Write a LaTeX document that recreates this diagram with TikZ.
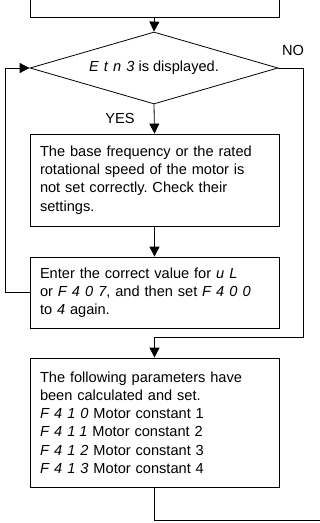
\documentclass[tikz,border=0pt]{standalone}
\usepackage{fontspec}
\setmainfont{Liberation Sans}
\usetikzlibrary{arrows.meta,shapes.geometric}
\frenchspacing
\newcommand{\dsp}[1]{{\itshape\addfontfeature{LetterSpace=35}#1}}
\tikzset{
  box/.style={draw, line width=0.8pt, rectangle, minimum width=249pt, text width=229pt, inner xsep=10pt, inner ysep=0pt, align=left, font=\fontsize{14.6}{18.2}\selectfont},
  dec/.style={draw, line width=0.8pt, diamond, shape aspect=3.44, minimum width=248pt, minimum height=72pt, inner sep=0pt, font=\fontsize{14.6}{18}\selectfont},
  conn/.style={line width=0.8pt},
  arr/.style={conn, -{Triangle[length=10pt,width=10pt]}},
  lbl/.style={font=\fontsize{14.6}{16}\selectfont, inner sep=0pt}
}
\begin{document}
\begin{tikzpicture}[x=1pt,y=1pt]
\useasboundingbox (0,0) rectangle (320,-523);
\node[box, minimum height=20pt] (top) at (154.5,-7) {};
\node[dec] (d) at (154,-68) {\dsp{Etn3} is displayed.};
\node[box, minimum height=92pt] (b2) at (154.5,-180) {The base frequency or the rated\\ rotational speed of the motor is\\ not set correctly. Check their\\ settings.};
\node[box, minimum height=71pt] (b3) at (154.5,-292.5) {Enter the correct value for \dsp{uL}\\ or \dsp{F407}, and then set \dsp{F400}\\ to \dsp{4} again.};
\node[box, minimum height=129pt] (b4) at (154.5,-422.5) {The following parameters have\\ been calculated and set.\\
\dsp{F410} Motor constant 1\\
\dsp{F411} Motor constant 2\\
\dsp{F412} Motor constant 3\\
\dsp{F413} Motor constant 4};
\coordinate (nr) at (303,-68);
\coordinate (nj) at (154.5,-337);
\coordinate (lf) at (5,-292.5);
\coordinate (bend) at (154.5,-520);
\coordinate (out) at (322,-520);
\draw[arr] (top.south) -- (d.north);
\draw[arr] (d.south) -- (b2.north);
\node[lbl] (yes) at (120,-118) {YES};
\node[lbl] (no) at (293,-50) {NO};
\draw[arr] (b2.south) -- (b3.north);
\draw[arr] (b3.west) -- (lf) |- (d.west);
\draw[arr] (d.east) -- (nr) |- (nj) -- (b4.north);
\draw[conn] (b4.south) -- (bend) -- (out);
\end{tikzpicture}
\end{document}
